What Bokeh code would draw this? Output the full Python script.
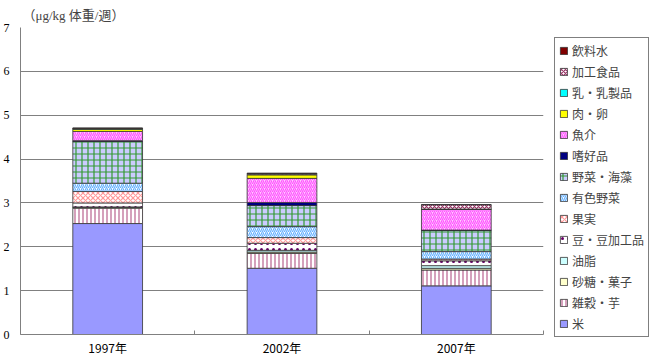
import numpy as np
from bokeh.plotting import figure
from bokeh.models import Range1d, FixedTicker, Legend, LegendItem, Title, ColumnDataSource
from bokeh.embed import file_html
from bokeh.resources import INLINE

years = ["1997年", "2002年", "2007年"]
# stacking order: bottom to top
groups = ["米", "雑穀・芋", "砂糖・菓子", "油脂", "豆・豆加工品", "果実", "有色野菜",
          "野菜・海藻", "嗜好品", "魚介", "肉・卵", "乳・乳製品", "加工食品", "飲料水"]
rice       = [2.53, 1.51, 1.11]
grains     = [0.35, 0.34, 0.36]
sugar      = [0.02, 0.03, 0.04]
oils       = [0.01, 0.04, 0.06]
beans      = [0.09, 0.16, 0.11]
fruits     = [0.26, 0.13, 0.04]
green_veg  = [0.19, 0.25, 0.17]
veg_sea    = [0.95, 0.48, 0.48]
luxury     = [0.02, 0.07, 0.01]
fish       = [0.21, 0.55, 0.47]
meat_egg   = [0.05, 0.08, 0.01]
dairy      = [0.01, 0.01, 0.00]
processed  = [0.01, 0.02, 0.10]
water      = [0.01, 0.01, 0.00]
series = [rice, grains, sugar, oils, beans, fruits, green_veg, veg_sea,
          luxury, fish, meat_egg, dairy, processed, water]

styles = [
    dict(fill_color="#9999FF", hatch_pattern=None, hatch_color=None, hs=6),
    dict(fill_color="#FFFFFF", hatch_pattern="vertical_line", hatch_color="#B8608E", hs=4),
    dict(fill_color="#FFFFCC", hatch_pattern=None, hatch_color=None, hs=6),
    dict(fill_color="#CCFFFF", hatch_pattern=None, hatch_color=None, hs=6),
    dict(fill_color="#FFFFFF", hatch_pattern="dot", hatch_color="#660066", hs=6),
    dict(fill_color="#FFFFFF", hatch_pattern="diagonal_cross", hatch_color="#FF9999", hs=5),
    dict(fill_color="#FFFFFF", hatch_pattern="right_diagonal_line", hatch_color="#66B2FF", hs=4),
    dict(fill_color="#CCCCFF", hatch_pattern="cross", hatch_color="#339933", hs=6),
    dict(fill_color="#000080", hatch_pattern=None, hatch_color=None, hs=6),
    dict(fill_color="#FFCCFF", hatch_pattern="right_diagonal_line", hatch_color="#FF55FF", hs=4),
    dict(fill_color="#FFFF00", hatch_pattern=None, hatch_color=None, hs=6),
    dict(fill_color="#00FFFF", hatch_pattern=None, hatch_color=None, hs=6),
    dict(fill_color="#FFFFFF", hatch_pattern="diagonal_cross", hatch_color="#993366", hs=4),
    dict(fill_color="#800000", hatch_pattern=None, hatch_color=None, hs=6),
]

xpos = [i + 0.5 for i in range(len(years))]

p = figure(frame_width=523, frame_height=307, output_backend="svg", toolbar_location=None,
           x_range=Range1d(0, len(years)), y_range=Range1d(0, 7),
           min_border_left=19, min_border_right=0, min_border_top=0, min_border_bottom=0)

renderers = []
bottoms = np.zeros(len(years))
for g, s, st in zip(groups, series, styles):
    tops = bottoms + np.array(s)
    src = ColumnDataSource(dict(x=xpos, bottom=list(bottoms), top=list(tops)))
    kw = dict(fill_color=st["fill_color"], line_color="#333333", line_width=0.8)
    if st["hatch_pattern"]:
        kw.update(hatch_pattern=st["hatch_pattern"], hatch_color=st["hatch_color"],
                  hatch_scale=st["hs"], hatch_weight=1.2)
    r = p.vbar(x="x", bottom="bottom", top="top", width=0.4, source=src, **kw)
    renderers.append(r)
    bottoms = tops

# axes
p.xaxis.ticker = FixedTicker(ticks=xpos, minor_ticks=list(range(len(years) + 1)))
p.xaxis.major_label_overrides = {x: y for x, y in zip(xpos, years)}
p.xaxis.major_tick_in = 0
p.xaxis.major_tick_out = 0
p.xaxis.minor_tick_in = 4
p.xaxis.minor_tick_out = 0
p.xaxis.axis_line_color = "#808080"
p.xaxis.minor_tick_line_color = "#808080"
p.xaxis.major_label_standoff = 4
p.xaxis.major_label_text_font = "Noto Sans CJK JP"
p.xaxis.major_label_text_font_size = "12px"
p.xaxis.major_label_text_color = "#000000"

p.yaxis.ticker = FixedTicker(ticks=list(range(0, 8)))
p.yaxis.axis_line_color = "#808080"
p.yaxis.major_tick_out = 0
p.yaxis.major_tick_in = 0
p.yaxis.minor_tick_line_color = None
p.yaxis.major_label_standoff = 11
p.yaxis.major_label_text_font = "Liberation Serif"
p.yaxis.major_label_text_font_size = "12px"
p.yaxis.major_label_text_color = "#000000"

p.xgrid.grid_line_color = None
p.ygrid.grid_line_color = "#808080"
p.ygrid.grid_line_width = 1
p.outline_line_color = None

title = Title(text="（μg/kg 体重/週）", align="left", offset=2,
              text_font="Liberation Serif, Noto Sans CJK JP",
              text_font_size="13px", text_font_style="normal", standoff=10)
p.add_layout(title, "above")

items = [LegendItem(label=g, renderers=[r]) for g, r in zip(groups, renderers)][::-1]
legend = Legend(items=items, location=(11, -3), margin=0,
                label_text_font="Noto Sans CJK JP", label_text_font_size="12px",
                label_height=15, glyph_height=9, glyph_width=9, spacing=4, padding=4,
                label_standoff=4, border_line_color="#000000", border_line_width=1,
                background_fill_color="#FFFFFF")
p.add_layout(legend, "right")

open("out.html", "w").write(file_html(p, INLINE))
